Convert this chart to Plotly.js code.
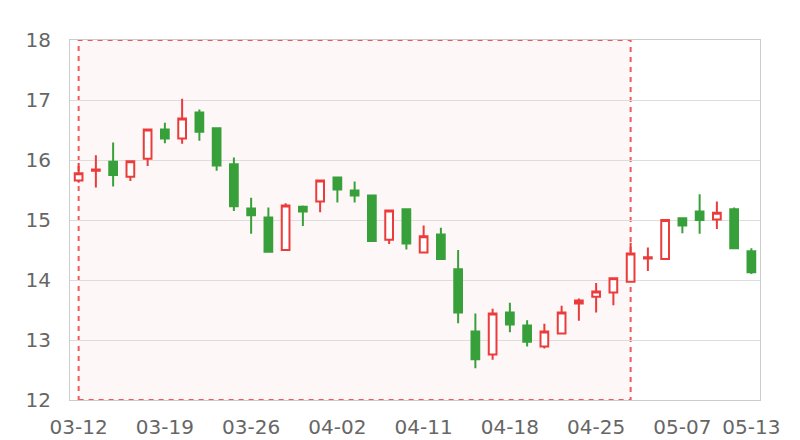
<!DOCTYPE html>
<html>
<head>
<meta charset="utf-8">
<script src="https://cdn.plot.ly/plotly-3.0.1.min.js"></script>
<style>html,body{margin:0;padding:0;background:#fff;}#chart{width:800px;height:440px;}</style>
</head>
<body>
<div id="chart"></div>
<script>
const dates = ['03-12','03-13','03-14','03-15','03-16','03-19','03-20','03-21','03-22','03-23',
  '03-26','03-27','03-28','03-29','03-30','04-02','04-03','04-04','04-09','04-10',
  '04-11','04-12','04-13','04-16','04-17','04-18','04-19','04-20','04-23','04-24',
  '04-25','04-26','04-27','05-02','05-03','05-07','05-08','05-09','05-10','05-13'];
const openVals = [15.66,15.82,15.97,15.72,16.02,16.51,16.36,16.79,16.53,15.93,
  15.19,15.04,14.50,15.22,15.31,15.71,15.49,15.41,14.67,15.18,
  14.46,14.76,14.18,13.14,12.76,13.46,13.24,12.89,13.11,13.61,
  13.72,13.79,13.97,14.36,14.35,15.03,15.14,15.01,15.18,14.48];
const closeVals = [15.78,15.84,15.75,15.98,16.51,16.36,16.69,16.47,15.91,15.23,
  15.08,14.47,15.24,15.14,15.66,15.51,15.41,14.65,15.16,14.61,
  14.73,14.35,13.46,12.68,13.44,13.26,12.97,13.14,13.46,13.66,
  13.81,14.03,14.44,14.38,15.00,14.91,15.00,15.12,14.53,14.13];
const highVals = [15.95,16.08,16.29,15.99,16.51,16.62,17.02,16.84,16.53,16.04,
  15.37,15.21,15.28,15.24,15.66,15.72,15.64,15.41,15.16,15.18,
  14.91,14.87,14.50,13.44,13.52,13.62,13.33,13.27,13.57,13.69,
  13.95,14.03,14.62,14.54,15.00,15.03,15.43,15.31,15.21,14.53];
const lowVals = [15.62,15.54,15.56,15.65,15.90,16.28,16.27,16.32,15.82,15.15,
  14.77,14.47,14.50,14.90,15.13,15.29,15.29,14.65,14.60,14.51,
  14.46,14.35,13.28,12.53,12.67,13.13,12.89,12.86,13.11,13.32,
  13.46,13.58,13.97,14.15,14.35,14.78,14.77,14.85,14.53,14.10];
const tickDates = ['03-12','03-19','03-26','04-02','04-11','04-18','04-25','05-07','05-13'];
const areaStart = '03-12';
const areaEnd = '04-27';

const red = '#eb3b3b';
const green = '#38a03a';

const trace = {
  type: 'candlestick',
  x: dates,
  open: openVals,
  close: closeVals,
  high: highVals,
  low: lowVals,
  increasing: {line: {color: red, width: 2}, fillcolor: '#ffffff'},
  decreasing: {line: {color: green, width: 2}, fillcolor: green},
  whiskerwidth: 0,
  hoverinfo: 'skip',
  showlegend: false
};

const layout = {
  width: 800, height: 440,
  margin: {l: 70, r: 40, t: 40, b: 40},
  paper_bgcolor: '#ffffff',
  plot_bgcolor: '#ffffff',
  font: {family: 'DejaVu Sans, sans-serif', size: 20, color: '#666666'},
  showlegend: false,
  boxgap: 0.36,
  xaxis: {
    type: 'category',
    categoryorder: 'array',
    categoryarray: dates,
    range: [-0.5, dates.length - 0.5],
    tickvals: tickDates,
    ticktext: tickDates,
    showgrid: false,
    showline: true, linecolor: '#cccccc', linewidth: 1, mirror: true,
    ticks: '', ticklen: 0,
    ticklabelstandoff: 9,
    rangeslider: {visible: false},
    tickfont: {size: 20, color: '#666666'},
    fixedrange: true
  },
  yaxis: {
    range: [12, 18],
    dtick: 1,
    showgrid: true, gridcolor: '#dddddd', gridwidth: 1,
    showline: true, linecolor: '#cccccc', linewidth: 1, mirror: true,
    zeroline: false,
    ticks: 'outside', ticklen: 0, tickcolor: 'rgba(0,0,0,0)',
    ticklabelstandoff: 14,
    tickfont: {size: 20, color: '#666666'},
    fixedrange: true
  },
  shapes: [{
    type: 'rect', xref: 'x', yref: 'y',
    x0: dates.indexOf(areaStart), x1: dates.indexOf(areaEnd),
    y0: 12, y1: 18,
    fillcolor: 'rgba(240,60,60,0.045)',
    line: {color: 'rgba(235,60,60,0.85)', width: 2, dash: '5px,5px'},
    layer: 'below'
  }]
};

Plotly.newPlot('chart', [trace], layout, {staticPlot: true, displayModeBar: false});
</script>
</body>
</html>
